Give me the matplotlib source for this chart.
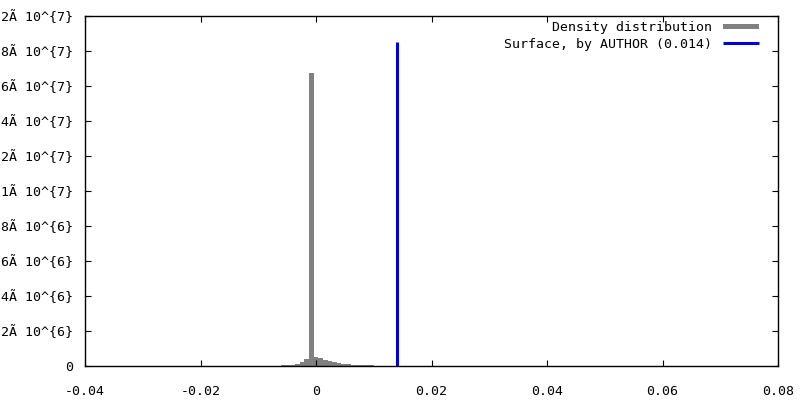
import numpy as np
import matplotlib
matplotlib.use("Agg")
import matplotlib.pyplot as plt
from matplotlib.patches import Rectangle
from matplotlib.lines import Line2D

# ---- data ----
bin_edges = np.linspace(-0.006, 0.010, 21)
density = [0.06e6, 0.06e6, 0.06e6, 0.11e6, 0.25e6, 0.40e6, 16.74e6, 0.51e6,
           0.44e6, 0.36e6, 0.30e6, 0.23e6, 0.17e6, 0.11e6, 0.11e6, 0.06e6,
           0.06e6, 0.06e6, 0.06e6, 0.06e6]
surface_x = 0.014
surface_top = 1.85e7
x_ticks = [-0.04, -0.02, 0, 0.02, 0.04, 0.06, 0.08]
x_labels = ["-0.04", "-0.02", "0", "0.02", "0.04", "0.06", "0.08"]
y_ticks = [0, 2e6, 4e6, 6e6, 8e6, 1e7, 1.2e7, 1.4e7, 1.6e7, 1.8e7, 2e7]
y_labels = ["0", "2Ã 10^{6}", "4Ã 10^{6}", "6Ã 10^{6}", "8Ã 10^{6}",
            "1Ã 10^{7}", "1.2Ã 10^{7}", "1.4Ã 10^{7}", "1.6Ã 10^{7}",
            "1.8Ã 10^{7}", "2Ã 10^{7}"]
legend_labels = ["Density distribution", "Surface, by AUTHOR (0.014)"]

plt.rcParams['font.family'] = ['DejaVu Sans Mono']
fs = 9.5

fig = plt.figure(figsize=(8, 4), dpi=100)
ax = fig.add_axes([85/800, 34/400, 693/800, 350/400])

widths = np.diff(bin_edges)
ax.bar(bin_edges[:-1], density, width=widths, align='edge',
       color='#808080', linewidth=0)
ax.plot([surface_x, surface_x], [0, surface_top], color='#0000dd',
        linewidth=2.2, solid_capstyle='butt')

ax.set_xlim(-0.04, 0.08)
ax.set_ylim(0, 2e7)
ax.set_xticks(x_ticks)
ax.set_xticklabels(x_labels, fontsize=fs)
ax.set_yticks(y_ticks)
ax.set_yticklabels(y_labels, fontsize=fs)
ax.tick_params(axis='both', direction='in', length=4, width=0.8,
               top=True, right=True)
ax.tick_params(axis='y', pad=8.6)
ax.tick_params(axis='x', pad=14)
for s in ax.spines.values():
    s.set_linewidth(1.0)

# legend (gnuplot style: right-aligned text, sample on right)
ax.text(0.905, 0.968, legend_labels[0], transform=ax.transAxes,
        ha='right', va='center', fontsize=fs)
ax.text(0.905, 0.919, legend_labels[1], transform=ax.transAxes,
        ha='right', va='center', fontsize=fs)
ax.add_patch(Rectangle((0.9206, 0.9637), 0.052, 0.0143, transform=ax.transAxes,
                       color='#808080', linewidth=0))
ax.add_line(Line2D([0.9206, 0.9726], [0.9229, 0.9229], transform=ax.transAxes,
                   color='#0000dd', linewidth=2.2, solid_capstyle='butt'))

fig.savefig("out.png", dpi=100)
